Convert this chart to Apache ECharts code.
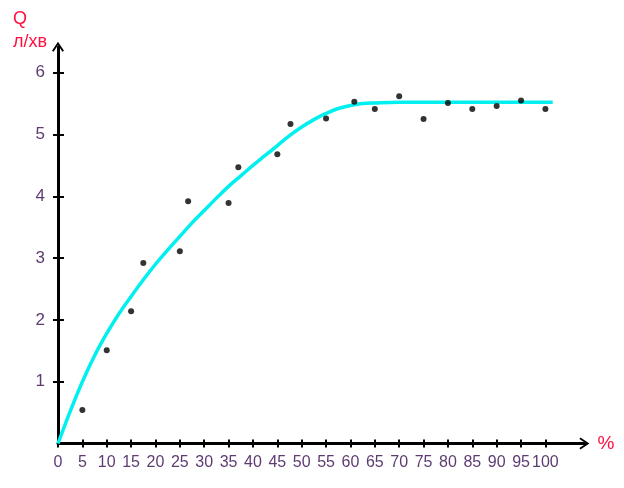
<!DOCTYPE html>
<html><head><meta charset="utf-8">
<script src="https://cdn.jsdelivr.net/npm/echarts@6/dist/echarts.min.js"></script>
<style>html,body{margin:0;padding:0;background:#fff}#c{width:624px;height:488px}</style>
</head><body><div id="c"></div>
<script>
// Measured points
var pointX = [5, 10, 15, 17.5, 25, 26.7, 35, 37, 45, 47.7, 55, 60.8, 65, 70, 75, 80, 85, 90, 95, 100];
var pointY = [0.54, 1.51, 2.14, 2.92, 3.11, 3.92, 3.89, 4.47, 4.68, 5.17, 5.26, 5.53, 5.41, 5.62, 5.25, 5.51, 5.41, 5.46, 5.55, 5.41];
// Fitted curve
var curveX = [0, 2.5, 5, 7.5, 10, 12.5, 15, 17.5, 20, 22.5, 25, 27.5, 30, 32.5, 35, 37.5, 40, 42.5, 45, 47.5, 50, 52.5, 55, 57.5, 60, 62.5, 65, 70, 75, 80, 85, 90, 95, 101.5];
var curveY = [0, 0.52, 1.0, 1.42, 1.78, 2.1, 2.38, 2.65, 2.9, 3.13, 3.35, 3.57, 3.77, 3.97, 4.16, 4.33, 4.5, 4.66, 4.82, 4.98, 5.12, 5.24, 5.34, 5.42, 5.47, 5.5, 5.51, 5.52, 5.52, 5.52, 5.52, 5.52, 5.52, 5.52];
var xTicks = [0, 5, 10, 15, 20, 25, 30, 35, 40, 45, 50, 55, 60, 65, 70, 75, 80, 85, 90, 95, 100];
var yTicks = [1, 2, 3, 4, 5, 6];

var FONT = '"Liberation Sans Narrow", "Liberation Sans", sans-serif';
var LBL = '#5e3c72';
var chevron = 'path://M6,0 L12,9 L10.4,10 L6,3.2 L1.6,10 L0,9 Z';

var scatterData = pointX.map(function (x, i) { return [x, pointY[i]]; });
var curveData = curveX.map(function (x, i) { return [x, curveY[i]]; });

var chart = echarts.init(document.getElementById('c'), null, {renderer: 'canvas'});
var xBase = {type: 'value', min: 0, max: 108, gridIndex: 0, splitLine: {show: false}};
var yBase = {type: 'value', min: 0, max: 6.42, gridIndex: 0, splitLine: {show: false}};
chart.setOption({
  animation: false,
  backgroundColor: '#fff',
  title: {
    text: 'Q\nл/хв', left: 8, top: 3,
    textStyle: {color: '#ff1040', fontFamily: FONT, fontWeight: 'normal', fontSize: 18, lineHeight: 23}
  },
  grid: {left: 58, top: 46.7, width: 526.4, height: 396.8},
  xAxis: [
    Object.assign({}, xBase, {
      position: 'bottom',
      name: '%', nameLocation: 'end', nameGap: 13,
      nameTextStyle: {color: '#ff1040', fontFamily: FONT, fontSize: 19, verticalAlign: 'middle'},
      axisLine: {show: true, onZero: false, symbol: ['none', chevron], symbolSize: [12, 10], symbolOffset: [0, 0], lineStyle: {color: '#000', width: 3}},
      axisTick: {show: true, inside: false, length: 4, customValues: xTicks, lineStyle: {color: '#000', width: 2}},
      axisLabel: {show: true, customValues: xTicks, margin: 11, color: LBL, fontFamily: FONT, fontSize: 16},
    }),
    Object.assign({}, xBase, {
      position: 'bottom',
      axisLine: {show: false},
      axisTick: {show: true, inside: true, length: 4, customValues: xTicks, lineStyle: {color: '#000', width: 2}},
      axisLabel: {show: false}
    })
  ],
  yAxis: [
    Object.assign({}, yBase, {
      position: 'left',
      axisLine: {show: true, onZero: false, symbol: ['none', chevron], symbolSize: [12, 10], lineStyle: {color: '#000', width: 3}},
      axisTick: {show: true, inside: false, length: 5, customValues: yTicks, lineStyle: {color: '#000', width: 2}},
      axisLabel: {show: true, customValues: yTicks, margin: 13, verticalAlign: 'middle', padding: [0, 0, 12, 0], color: LBL, fontFamily: FONT, fontSize: 17}
    }),
    Object.assign({}, yBase, {
      position: 'left',
      axisLine: {show: false},
      axisTick: {show: true, inside: true, length: 6, customValues: yTicks, lineStyle: {color: '#000', width: 2}},
      axisLabel: {show: false}
    })
  ],
  series: [
    {
      type: 'line', xAxisIndex: 0, yAxisIndex: 0, data: curveData, smooth: 0.4,
      showSymbol: false, symbol: 'none',
      lineStyle: {color: '#00f0f0', width: 3.5}, z: 2
    },
    {
      type: 'scatter', xAxisIndex: 0, yAxisIndex: 0, data: scatterData,
      symbol: 'circle', symbolSize: 6, itemStyle: {color: '#000'}, z: 3
    }
  ]
});
</script>
</body></html>
